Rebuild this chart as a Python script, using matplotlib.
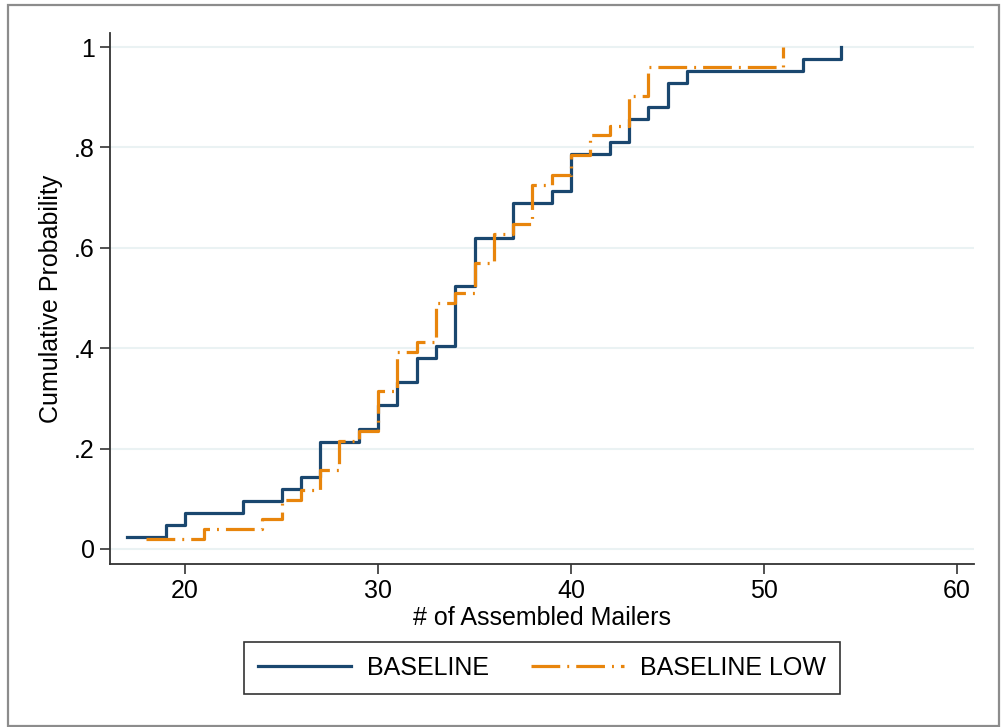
import matplotlib
matplotlib.use("Agg")
import matplotlib.pyplot as plt
from matplotlib.patches import Rectangle

plt.rcParams['font.family'] = ['Liberation Sans', 'DejaVu Sans']

base_x = [17, 19, 20, 23, 25, 26, 27, 29, 30, 31, 32, 33, 34, 35, 37, 39,
          40, 42, 43, 44, 45, 46, 52, 54]
base_y = [0.024, 0.048, 0.071, 0.095, 0.119, 0.143, 0.214, 0.238, 0.286,
          0.333, 0.381, 0.405, 0.524, 0.619, 0.690, 0.714, 0.786, 0.810,
          0.857, 0.881, 0.929, 0.952, 0.976, 1.0]

low_x = [18, 21, 24, 25, 26, 27, 28, 29, 30, 31, 32, 33, 34, 35, 36, 37,
         38, 39, 40, 41, 42, 43, 44, 51]
low_y = [0.020, 0.039, 0.059, 0.098, 0.118, 0.157, 0.216, 0.235, 0.314,
         0.392, 0.412, 0.490, 0.510, 0.569, 0.627, 0.647, 0.725, 0.745,
         0.784, 0.824, 0.843, 0.902, 0.961, 1.0]

xticks = [20, 30, 40, 50, 60]
yticks = [0, 0.2, 0.4, 0.6, 0.8, 1.0]
ytick_labels = ["0", ".2", ".4", ".6", ".8", "1"]

navy = "#1a476f"
orange = "#e8850c"
W, H = 1003, 727
fs = 18

fig = plt.figure(figsize=(W / 100, H / 100), dpi=100)
ax = fig.add_axes([110 / W, 1 - 564 / H, (974 - 110) / W, (564 - 33) / H])

ax.plot(base_x, base_y, drawstyle="steps-post", color=navy, lw=2.3,
        label="BASELINE")
ax.plot(low_x, low_y, drawstyle="steps-post", color=orange, lw=2.3,
        linestyle=(0, (9, 2.2, 0.6, 2.2)), label="BASELINE LOW")

ax.set_xlim(16.11, 60.88)
ax.set_ylim(-0.030, 1.028)
ax.set_xticks(xticks)
ax.set_yticks(yticks)
ax.set_yticklabels(ytick_labels)
ax.tick_params(labelsize=fs, length=7.5, width=1.2, color="#333333")
ax.grid(axis="y", color="#eaf2f3", lw=1.5)
ax.set_axisbelow(True)
for s in ["top", "right"]:
    ax.spines[s].set_visible(False)
for s in ["left", "bottom"]:
    ax.spines[s].set_color("#333333")
    ax.spines[s].set_linewidth(1.3)

ax.set_xlabel("# of Assembled Mailers", fontsize=fs, labelpad=2)
ax.set_ylabel("Cumulative Probability", fontsize=fs, labelpad=8)

leg = fig.legend(loc="center", bbox_to_anchor=(542 / W, 1 - 668 / H),
                 ncol=2, fontsize=fs, frameon=True, fancybox=False,
                 edgecolor="black", handlelength=3.7, handletextpad=0.65,
                 columnspacing=1.7, borderpad=0.55)
leg.get_frame().set_linewidth(1.2)

# outer frame like the Stata graph region
fig.patches.append(Rectangle((8 / W, 0.002), (999 - 8) / W, 1 - 5 / H - 0.002,
                             transform=fig.transFigure, fill=False,
                             edgecolor="#8c8c8c", lw=1.6))

fig.savefig("out.png", dpi=100)
